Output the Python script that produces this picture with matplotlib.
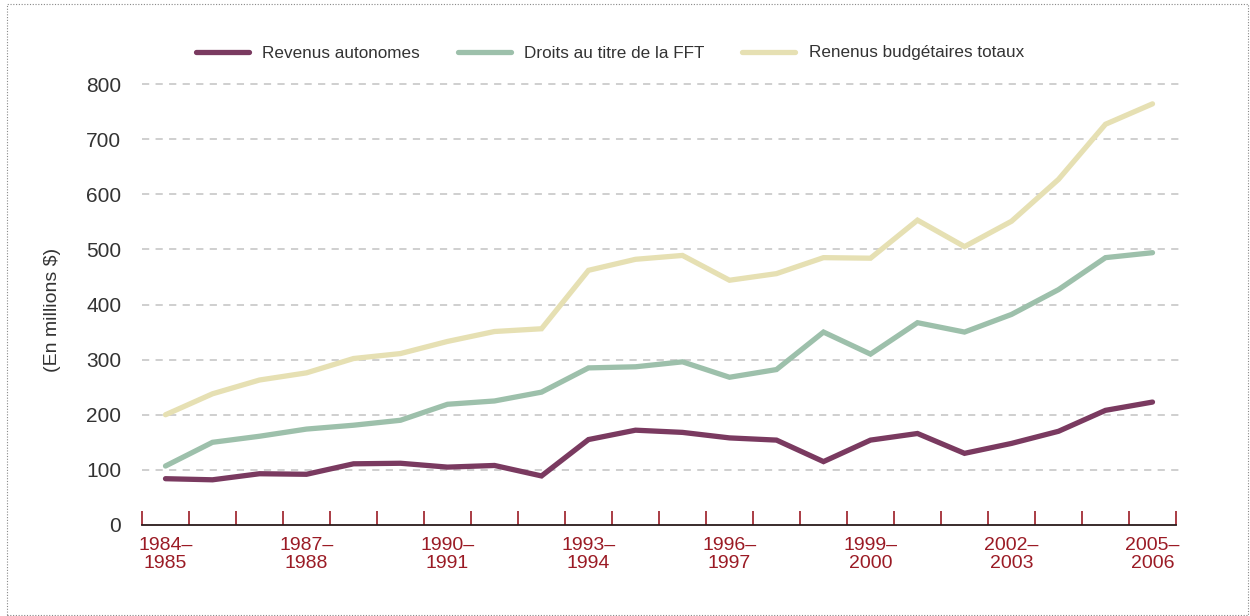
import matplotlib
matplotlib.use("Agg")
import matplotlib.pyplot as plt
from matplotlib.patches import Rectangle
from matplotlib import font_manager

names = {f.name for f in font_manager.fontManager.ttflist}
fam = ['Liberation Sans Narrow'] if 'Liberation Sans Narrow' in names else ['Liberation Sans']
plt.rcParams['font.family'] = fam + ['DejaVu Sans']

categories = ["1984–\n1985", "1985–\n1986", "1986–\n1987", "1987–\n1988", "1988–\n1989",
              "1989–\n1990", "1990–\n1991", "1991–\n1992", "1992–\n1993", "1993–\n1994",
              "1994–\n1995", "1995–\n1996", "1996–\n1997", "1997–\n1998", "1998–\n1999",
              "1999–\n2000", "2000–\n2001", "2001–\n2002", "2002–\n2003", "2003–\n2004",
              "2004–\n2005", "2005–\n2006"]
revenus_autonomes = [84, 82, 93, 92, 111, 112, 105, 108, 89, 155, 172, 168, 158, 154,
                     115, 154, 166, 130, 148, 170, 208, 223]
droits_fft = [107, 150, 161, 174, 181, 190, 219, 225, 241, 285, 287, 296, 268, 282,
              350, 310, 367, 350, 382, 427, 485, 494]
revenus_totaux = [200, 238, 263, 276, 302, 311, 333, 351, 356, 462, 482, 489, 444, 456,
                  485, 484, 553, 505, 551, 627, 727, 764]
series_names = ["Revenus autonomes", "Droits au titre de la FFT", "Renenus budgétaires totaux"]
y_ticks = [0, 100, 200, 300, 400, 500, 600, 700, 800]

colors = ["#7a3a60", "#9dc0ab", "#e6e0b3"]

W, H = 1250, 616
fig = plt.figure(figsize=(W / 100, H / 100), dpi=100)
ax = fig.add_axes([142 / W, 1 - 525 / H, (1176 - 142) / W, (525 - 84) / H])

x = list(range(len(categories)))
for vals, name, c in zip([revenus_autonomes, droits_fft, revenus_totaux], series_names, colors):
    ax.plot(x, vals, color=c, lw=3.8, solid_capstyle='round', solid_joinstyle='miter', label=name, zorder=3)

ax.set_xlim(-0.5, len(categories) - 0.5)
ax.set_ylim(0, 800)

for v in y_ticks[1:]:
    ax.plot([-0.5, len(categories) - 0.42], [v, v], color="#cccccc", lw=1.3, ls=(0, (4, 3.5)),
            zorder=1, clip_on=False)

ax.set_yticks(y_ticks)
ax.tick_params(axis='y', length=0, pad=15, labelsize=15, labelcolor="#333333")

ax.set_xticks(x[::3])
ax.set_xticklabels(categories[::3])
ax.tick_params(axis='x', which='major', length=0, pad=9, labelsize=14, labelcolor="#9b1b25")
ax.set_xticks([i - 0.5 for i in range(len(categories) + 1)], minor=True)
ax.tick_params(axis='x', which='minor', direction='in', length=10, width=1.2, color="#9b1b25")
for lbl in ax.get_xticklabels():
    lbl.set_multialignment('center')
    lbl.set_linespacing(1.0)

for s in ['top', 'right', 'left']:
    ax.spines[s].set_visible(False)
ax.spines['bottom'].set_color("#2a1a1a")
ax.spines['bottom'].set_linewidth(1.3)

ax.set_ylabel("(En millions $)", fontsize=14, color="#333333")
ax.yaxis.set_label_coords((61 - 142) / 1034, 0.4875)

fig.legend(loc='center', bbox_to_anchor=(610 / W, 1 - 53 / H), ncol=3, frameon=False,
           fontsize=12.3, handlelength=3.1, handletextpad=0.8, columnspacing=2.2,
           labelcolor="#333333")

fig.patches.append(Rectangle((7 / W, 1 - 615 / H), 1241 / W, 611 / H, transform=fig.transFigure,
                             fill=False, ec="#888888", lw=0.8, ls=(0, (1, 1.5))))

fig.savefig("out.png", dpi=100)
